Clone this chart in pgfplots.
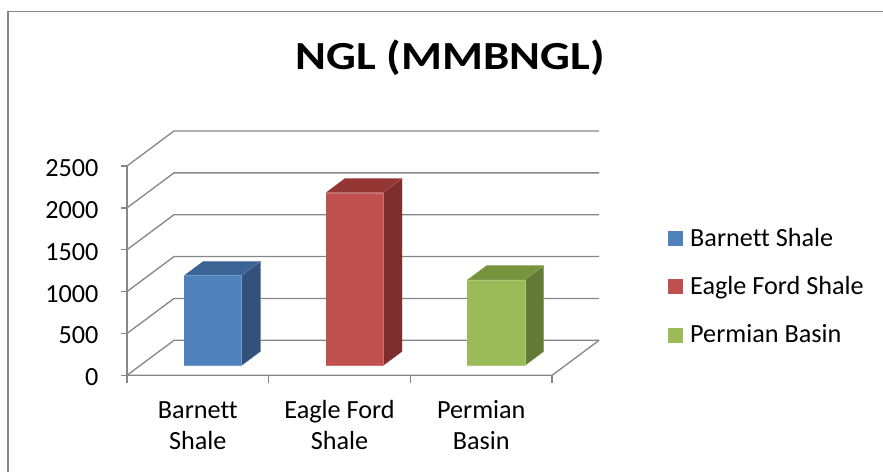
\documentclass[border=0pt]{standalone}
\usepackage{pgfplots}
\pgfplotsset{compat=1.18}
\usepackage{fontspec}
\setmainfont{Carlito}[Ligatures=NoCommon]
\definecolor{gridc}{HTML}{868686}
\definecolor{bfront}{HTML}{4F81BD}
\definecolor{btop}{HTML}{3C6494}
\definecolor{bside}{HTML}{33527B}
\definecolor{rfront}{HTML}{C0504D}
\definecolor{rtop}{HTML}{943634}
\definecolor{rside}{HTML}{7D2E2C}
\definecolor{gfront}{HTML}{9BBB59}
\definecolor{gtop}{HTML}{77933C}
\definecolor{gside}{HTML}{657A36}
\newcommand{\lab}{\fontsize{26.3}{30}\selectfont}
% x0 x1 value front top side
\newcommand{\cuboid}[6]{%
 \addplot3[fill=#6, draw=#6!80!white, line width=0.4bp] coordinates {(#2,0.277,0) (#2,0.681,0) (#2,0.681,#3) (#2,0.277,#3)};
 \addplot3[fill=#5, draw=#5!80!white, line width=0.4bp] coordinates {(#1,0.277,#3) (#2,0.277,#3) (#2,0.681,#3) (#1,0.681,#3)};
 \addplot3[fill=#4, draw=#4!80!white, line width=0.4bp] coordinates {(#1,0.277,0) (#2,0.277,0) (#2,0.277,#3) (#1,0.277,#3)};
}
\begin{document}
\begin{tikzpicture}
\begin{axis}[hide axis, clip=false,
  x={(141.7bp,0bp)}, y={(47bp,35bp)}, z={(0bp,0.08372bp)},
  xmin=0, xmax=3, ymin=0, ymax=1, zmin=0, zmax=2500]
  \coordinate (O) at (axis cs:0,0,0);
  % walls
  \pgfplotsinvokeforeach{0,500,1000,1500,2000,2500}{
    \addplot3[gridc, line width=1.3bp] coordinates {(0,0,#1) (0,1,#1) (3,1,#1)};
    \addplot3[gridc, line width=1.3bp] coordinates {(-0.042,0,#1) (0,0,#1)};
    \node[anchor=base east, font=\lab, xshift=-25bp, yshift=-10.5bp] at (axis cs:0,0,#1) {#1};
  }
  % floor
  \addplot3[gridc, line width=1.3bp] coordinates {(0,0,0) (3,0,0) (3,1,0)};
  \addplot3[gridc, line width=1.3bp] coordinates {(0,0,0) (0,0,2500)};
  \pgfplotsinvokeforeach{0,1,2,3}{
    \addplot3[gridc, line width=1.3bp] coordinates {(#1,0,0) (#1,0,-96)};
  }
  % bars
  \cuboid{0.31}{0.715}{1075}{bfront}{btop}{bside}
  \cuboid{1.31}{1.715}{2065}{rfront}{rtop}{rside}
  \cuboid{2.31}{2.715}{1025}{gfront}{gtop}{gside}
  % category labels
  \node[anchor=base, font=\lab, yshift=-43bp] at (axis cs:0.5,0,0) {Barnett};
  \node[anchor=base, font=\lab, yshift=-74.7bp] at (axis cs:0.5,0,0) {Shale};
  \node[anchor=base, font=\lab, yshift=-43bp] at (axis cs:1.5,0,0) {Eagle Ford};
  \node[anchor=base, font=\lab, yshift=-74.7bp] at (axis cs:1.5,0,0) {Shale};
  \node[anchor=base, font=\lab, yshift=-43bp] at (axis cs:2.5,0,0) {Permian};
  \node[anchor=base, font=\lab, yshift=-74.7bp] at (axis cs:2.5,0,0) {Basin};
\end{axis}
\begin{scope}[shift={(O)}, x=1bp, y=-1bp, shift={(-127,-375.3)}]
  \node[anchor=base] at (450,70) {\scalebox{1.176}[1]{\fontsize{40}{48}\selectfont\bfseries NGL (MMBNGL)}};
  \fill[bfront] (668,231.5) rectangle (683,246.5);
  \fill[rfront] (668,279.2) rectangle (683,294.2);
  \fill[gfront] (668,327.8) rectangle (683,342.8);
  \node[anchor=base west, font=\lab, inner sep=0pt] at (690,246.7) {Barnett Shale};
  \node[anchor=base west, font=\lab, inner sep=0pt] at (690,294.2) {Eagle Ford Shale};
  \node[anchor=base west, font=\lab, inner sep=0pt] at (690,342.8) {Permian Basin};
  \draw[gridc, line width=2bp] (8,474) -- (8,11);
  \draw[gridc, line width=1.3bp] (7,11.5) -- (885,11.5);
  \pgfresetboundingbox
  \useasboundingbox (0,0) rectangle (883,472);
\end{scope}
\end{tikzpicture}
\end{document}
